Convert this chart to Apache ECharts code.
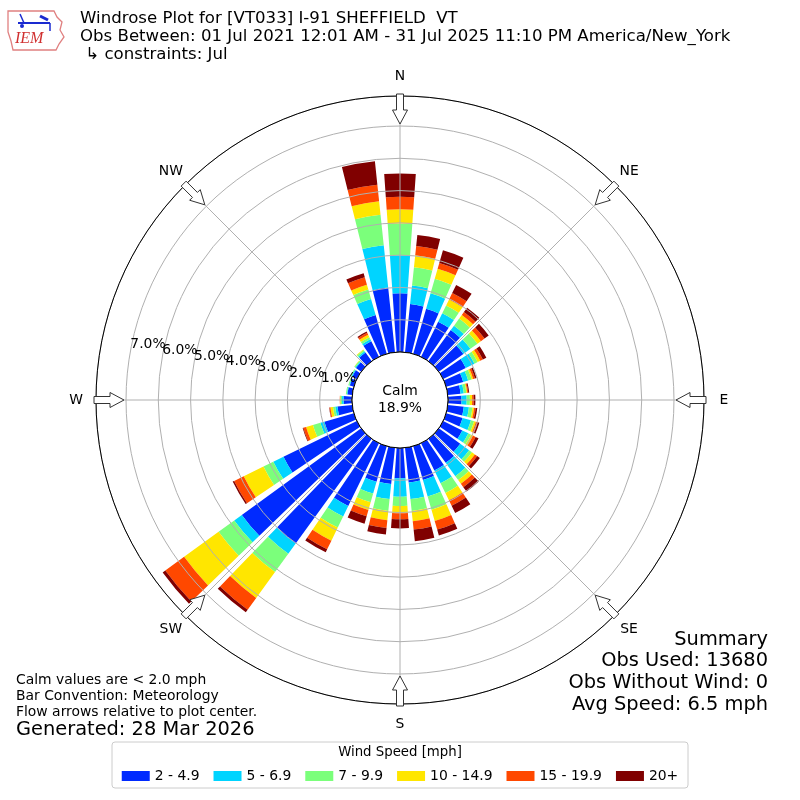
<!DOCTYPE html>
<html>
<head>
<meta charset="utf-8">
<script src="https://cdn.jsdelivr.net/npm/echarts@6/dist/echarts.min.js"></script>
<style>
html,body{margin:0;padding:0;background:#fff;}
#chart{width:800px;height:800px;}
</style>
</head>
<body>
<div id="chart"></div>
<script>
// ---- data (percent of observations), directions every 10 degrees ----
const directions = ['0','10','20','30','40','50','60','70','80','90','100','110','120','130','140','150','160','170',
  '180','190','200','210','220','230','240','250','260','270','280','290','300','310','320','330','340','350'];
const speedBins = ['2 - 4.9','5 - 6.9','7 - 9.9','10 - 14.9','15 - 19.9','20+'];
const speed2to5   = [1.82,1.50,1.45,1.21,1.19,0.94,0.78,0.55,0.40,0.42,0.50,0.53,0.66,0.82,0.92,0.94,1.09,1.08,
                     0.94,1.13,1.15,2.17,4.01,4.57,2.53,0.95,0.46,0.26,0.15,0.13,0.16,0.20,0.33,0.54,1.25,2.02];
const speed5to7   = [1.18,0.58,0.50,0.29,0.17,0.27,0.30,0.16,0.10,0.16,0.16,0.27,0.21,0.34,0.51,0.44,0.53,0.52,
                     0.57,0.47,0.38,0.36,0.39,0.29,0.35,0.13,0.07,0.05,0.02,0.02,0.03,0.03,0.05,0.07,0.52,1.31];
const speed7to10  = [0.98,0.57,0.47,0.27,0.27,0.27,0.11,0.11,0.08,0.10,0.11,0.10,0.09,0.11,0.15,0.34,0.43,0.37,
                     0.29,0.37,0.28,0.38,0.70,0.60,0.34,0.24,0.07,0.05,0.03,0.03,0.03,0.03,0.05,0.07,0.30,0.95];
const speed10to15 = [0.44,0.37,0.32,0.21,0.14,0.13,0.09,0.05,0.03,0.07,0.05,0.06,0.07,0.11,0.14,0.25,0.36,0.32,
                     0.22,0.29,0.25,0.45,0.99,1.32,0.68,0.22,0.08,0.01,0.00,0.00,0.00,0.01,0.02,0.08,0.16,0.42];
const speed15to20 = [0.39,0.29,0.19,0.22,0.11,0.14,0.09,0.06,0.03,0.05,0.05,0.06,0.09,0.09,0.13,0.19,0.28,0.26,
                     0.19,0.24,0.20,0.30,0.45,0.72,0.33,0.09,0.03,0.01,0.00,0.00,0.00,0.00,0.00,0.07,0.24,0.52];
const speed20plus = [0.72,0.34,0.41,0.28,0.17,0.16,0.12,0.05,0.03,0.05,0.05,0.05,0.10,0.10,0.17,0.25,0.19,0.36,
                     0.28,0.20,0.24,0.10,0.10,0.10,0.05,0.02,0.01,0.00,0.00,0.00,0.00,0.00,0.00,0.04,0.13,0.73];
const speedColors = ['#002aff','#00d4ff','#7bff7b','#ffe600','#ff4800','#800000'];
const compassAngles = [0, 45, 90, 135, 180, 225, 270, 315];
const compassNames  = ['N', 'NE', 'E', 'SE', 'S', 'SW', 'W', 'NW'];
const radiusMax = 7.93;
const calmPercent = '18.9%';

const FONT = 'DejaVu Sans';
const CX = 400, CY = 400, R0 = 48, R1 = 304, RLAB = 324;

const seriesData = [speed2to5, speed5to7, speed7to10, speed10to15, speed15to20, speed20plus];
const series = seriesData.map((d, i) => ({
  type: 'bar', name: speedBins[i], coordinateSystem: 'polar', polarIndex: 0,
  stack: 'wind', data: d, barWidth: '80%', z: 2,
  itemStyle: { color: speedColors[i] }, emphasis: { disabled: true }
}));

const txt = (x, y, text, size, extra) => Object.assign({
  type: 'text', x: x, y: y, z: 130,
  style: Object.assign({ text: text, font: size + 'px "' + FONT + '"', fill: '#000', textVerticalAlign: 'middle' }, extra || {})
});

// flow arrows and compass labels at the 8 compass points
const arrows = [];
compassAngles.forEach((a, k) => {
  const t = a * Math.PI / 180;
  const ux = Math.sin(t), uy = -Math.cos(t), px = Math.cos(t), py = Math.sin(t);
  const pt = (r, w) => [CX + r * ux + w * px, CY + r * uy + w * py];
  arrows.push({
    type: 'polygon', z: 120,
    shape: { points: [pt(276,0), pt(290,7.5), pt(290,3.5), pt(306,3.5), pt(306,-3.5), pt(290,-3.5), pt(290,-7.5)] },
    style: { fill: '#fff', stroke: '#333', lineWidth: 1 }
  });
  const lp = pt(RLAB, 0);
  arrows.push(txt(lp[0], lp[1], compassNames[k], 13.9, { textAlign: 'center' }));
});

const graphics = [
  { type: 'circle', z: 100, shape: { cx: CX, cy: CY, r: R0 }, style: { fill: '#fff', stroke: '#000', lineWidth: 1 } },
  txt(CX, 391, 'Calm', 13.9, { textAlign: 'center' }),
  txt(CX, 408, calmPercent, 13.9, { textAlign: 'center' }),
  // logo
  { type: 'polygon', z: 130, shape: { points: [[8,11],[54,11],[57,17],[62,22],[60,30],[64,37],[59,44],[56,50],[13,50],[11,41],[8,32]] },
    style: { fill: '#fff', stroke: '#e08080', lineWidth: 1.3 } },
  { type: 'line', z: 131, shape: { x1: 18, y1: 23, x2: 50, y2: 23 }, style: { stroke: '#1a2ad0', lineWidth: 2 } },
  { type: 'line', z: 131, shape: { x1: 20, y1: 14, x2: 24, y2: 23 }, style: { stroke: '#1a2ad0', lineWidth: 1.5 } },
  { type: 'line', z: 131, shape: { x1: 40, y1: 16, x2: 48, y2: 20 }, style: { stroke: '#1a2ad0', lineWidth: 3 } },
  { type: 'line', z: 131, shape: { x1: 50, y1: 23, x2: 50, y2: 31 }, style: { stroke: '#1a2ad0', lineWidth: 1.5 } },
  { type: 'circle', z: 131, shape: { cx: 22, cy: 26, r: 2 }, style: { fill: '#1a2ad0' } },
  txt(15, 39, 'IEM', 16, { font: 'italic 16px "Liberation Serif"', fill: '#d03030' }),
  // header
  txt(80, 19, 'Windrose Plot for [VT033] I-91 SHEFFIELD  VT', 16.6),
  txt(80, 37, 'Obs Between: 01 Jul 2021 12:01 AM - 31 Jul 2025 11:10 PM America/New_York', 16.6),
  txt(80, 55, ' \u21b3 constraints: Jul', 16.6),
  // footer left
  txt(16, 680, 'Calm values are < 2.0 mph', 13.9),
  txt(16, 696, 'Bar Convention: Meteorology', 13.9),
  txt(16, 712, 'Flow arrows relative to plot center.', 13.9),
  txt(16, 730, 'Generated: 28 Mar 2026', 19.4),
  // summary
  txt(768, 640, 'Summary', 19.4, { textAlign: 'right' }),
  txt(768, 661, 'Obs Used: 13680', 19.4, { textAlign: 'right' }),
  txt(768, 683, 'Obs Without Wind: 0', 19.4, { textAlign: 'right' }),
  txt(768, 705, 'Avg Speed: 6.5 mph', 19.4, { textAlign: 'right' }),
  // legend box + title
  { type: 'rect', z: 90, shape: { x: 112, y: 742, width: 576, height: 46, r: 3 }, style: { fill: '#fff', stroke: '#cccccc', lineWidth: 1 } },
  txt(CX, 753, 'Wind Speed [mph]', 13.3, { textAlign: 'center' })
].concat(arrows);

const chart = echarts.init(document.getElementById('chart'), null, { renderer: 'canvas' });
chart.setOption({
  animation: false,
  backgroundColor: '#fff',
  textStyle: { fontFamily: FONT },
  polar: [
    { center: [CX, CY], radius: [R0, R1] },
    { center: [CX, CY], radius: [R0, R1] },
    { center: [CX, CY], radius: [R0, R1] }
  ],
  angleAxis: [
    { polarIndex: 0, type: 'category', data: directions, startAngle: 95, clockwise: true, boundaryGap: true,
      axisLine: { show: false }, axisTick: { show: false }, axisLabel: { show: false }, splitLine: { show: false } },
    { polarIndex: 1, type: 'value', min: 0, max: 360, interval: 45, startAngle: 90, clockwise: true, z: 50,
      axisLine: { show: true, lineStyle: { color: '#000', width: 1 } },
      axisTick: { show: false }, axisLabel: { show: false },
      splitLine: { show: true, lineStyle: { color: '#b0b0b0', width: 1 } } },
    { polarIndex: 2, type: 'value', min: 0, max: 360, startAngle: 169.8, clockwise: true,
      axisLine: { show: false }, axisTick: { show: false }, axisLabel: { show: false }, splitLine: { show: false } }
  ],
  radiusAxis: [
    { polarIndex: 0, type: 'value', min: 0, max: radiusMax,
      axisLine: { show: false }, axisTick: { show: false }, axisLabel: { show: false }, splitLine: { show: false } },
    { polarIndex: 1, type: 'value', min: 0, max: radiusMax, interval: 1, z: 50,
      axisLine: { show: false }, axisTick: { show: false }, axisLabel: { show: false },
      splitLine: { show: true, lineStyle: { color: '#b0b0b0', width: 1 } } },
    { polarIndex: 2, type: 'value', min: 0, max: radiusMax, interval: 1, z: 150,
      axisLine: { show: false }, axisTick: { show: false }, splitLine: { show: false },
      axisLabel: { show: true, margin: 0, align: 'left', verticalAlign: 'bottom', showMaxLabel: false,
        fontSize: 13.9, color: '#000', fontFamily: FONT, formatter: v => v.toFixed(1) + '%' } }
  ],
  legend: {
    data: speedBins, top: 764, left: 'center', icon: 'rect', itemWidth: 28, itemHeight: 10, itemGap: 14,
    selectedMode: false, z: 95,
    textStyle: { fontSize: 13.9, color: '#000', fontFamily: FONT }
  },
  graphic: graphics,
  series: series
});
</script>
</body>
</html>
